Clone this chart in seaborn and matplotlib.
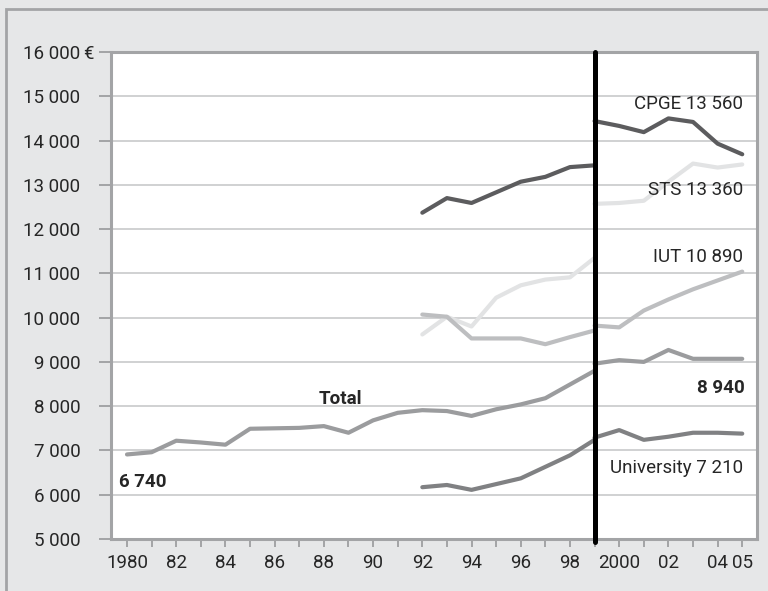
import matplotlib
matplotlib.use("Agg")
import matplotlib.pyplot as plt
import matplotlib.patches as patches
import seaborn as sns

# -----------------------------
# Data (euros per student)
# -----------------------------
years_total_old = [1980, 1981, 1982, 1983, 1984, 1985, 1986, 1987, 1988, 1989,
                   1990, 1991, 1992, 1993, 1994, 1995, 1996, 1997, 1998, 1999]
total_old = [6910, 6960, 7220, 7180, 7130, 7490, 7500, 7510, 7550, 7400,
             7680, 7850, 7910, 7890, 7780, 7930, 8040, 8180, 8490, 8800]

years_old = [1992, 1993, 1994, 1995, 1996, 1997, 1998, 1999]
years_new = [1999, 2000, 2001, 2002, 2003, 2004, 2005]

total_new = [8960, 9040, 9000, 9270, 9070, 9070, 9070]

cpge_old = [12370, 12700, 12590, 12830, 13070, 13180, 13400, 13440]
cpge_new = [14440, 14330, 14190, 14500, 14420, 13930, 13690]

sts_old = [9620, 10020, 9800, 10450, 10730, 10860, 10910, 11350]
sts_new = [12570, 12590, 12640, 13070, 13480, 13390, 13460]

iut_old = [10070, 10020, 9530, 9530, 9530, 9400, 9560, 9710]
iut_new = [9820, 9780, 10160, 10410, 10640, 10840, 11040]

univ_old = [6170, 6220, 6110, 6240, 6370, 6630, 6890, 7240]
univ_new = [7290, 7460, 7240, 7310, 7400, 7400, 7380]

y_ticks = [5000, 6000, 7000, 8000, 9000, 10000, 11000, 12000, 13000, 14000, 15000, 16000]
y_labels = ["5 000", "6 000", "7 000", "8 000", "9 000", "10 000", "11 000",
            "12 000", "13 000", "14 000", "15 000", "16 000"]
x_ticks = [1980, 1981, 1982, 1983, 1984, 1985, 1986, 1987, 1988, 1989, 1990,
           1991, 1992, 1993, 1994, 1995, 1996, 1997, 1998, 1999, 2000, 2001,
           2002, 2003, 2004, 2005]
x_labels = ["1980", "", "82", "", "84", "", "86", "", "88", "", "90", "",
            "92", "", "94", "", "96", "", "98", "", "2000", "", "02", "", "04", "05"]

# -----------------------------
# Style
# -----------------------------
sns.set_style("white")
plt.rcParams['font.family'] = ['Roboto', 'DejaVu Sans']

bg = "#e6e7e8"
frame = "#a3a4a6"
grid = "#c8c9cb"
fs = 13.5

fig = plt.figure(figsize=(7.68, 5.91), dpi=100, facecolor=bg)
fig.patches.append(patches.Rectangle((6 / 768, -0.05), 1.05, 1 - 9 / 591 + 0.05,
                                     transform=fig.transFigure, fill=False,
                                     edgecolor=frame, linewidth=2, zorder=0))
ax = fig.add_axes([111 / 768, 1 - 539 / 591, (757 - 111) / 768, (539 - 52) / 591])
ax.set_facecolor("white")

lw = 3.0
series = [
    (years_total_old, total_old, years_new, total_new, "#9b9c9e"),
    (years_old, cpge_old, years_new, cpge_new, "#5c5c5e"),
    (years_old, sts_old, years_new, sts_new, "#e2e3e4"),
    (years_old, iut_old, years_new, iut_new, "#bdbec0"),
    (years_old, univ_old, years_new, univ_new, "#808183"),
]
for xo, yo, xn, yn, col in series:
    sns.lineplot(x=xo, y=yo, ax=ax, color=col, linewidth=lw, zorder=3)
    sns.lineplot(x=xn, y=yn, ax=ax, color=col, linewidth=lw, zorder=3)

# methodology break
ax.axvline(1999, color="black", linewidth=3.6, zorder=5, clip_on=False,
           ymin=-0.006, ymax=1)

ax.set_xlim(1979.35, 2005.6)
ax.set_ylim(5000, 16000)
ax.set_yticks(y_ticks)
ax.set_yticklabels(y_labels, fontsize=fs)
ax.set_xticks(x_ticks)
ax.set_xticklabels(x_labels, fontsize=fs)
ax.grid(axis="y", color=grid, linewidth=1.2, zorder=1)
ax.tick_params(axis="y", length=8.6, width=1.4, color=frame, pad=13.5, left=True)
ax.tick_params(axis="x", length=6, width=1.4, color=frame, pad=5, bottom=True)
for s in ax.spines.values():
    s.set_color(frame)
    s.set_linewidth(2.2)
ax.set_xlabel("")
ax.set_ylabel("")

# euro sign after the top tick label
ax.annotate("€", xy=(0, 16000), xycoords=("axes fraction", "data"),
            xytext=(-20, 0), textcoords="offset points",
            ha="left", va="center_baseline", fontsize=fs, annotation_clip=False)

# annotations
ax.text(2005.03, 14825, "CPGE 13 560", ha="right", va="center", fontsize=fs)
ax.text(2005.03, 12883, "STS 13 360", ha="right", va="center", fontsize=fs)
ax.text(2005.03, 11370, "IUT 10 890", ha="right", va="center", fontsize=fs)
ax.text(2005.11, 8410, "8 940", ha="right", va="center", fontsize=fs, fontweight="bold")
ax.text(2005.03, 6604, "University 7 210", ha="right", va="center", fontsize=fs)
ax.text(1988.66, 8162, "Total", ha="center", va="center", fontsize=fs, fontweight="bold")
ax.text(1979.68, 6288, "6 740", ha="left", va="center", fontsize=fs, fontweight="bold")

plt.savefig("out.png", dpi=100, facecolor=bg)
